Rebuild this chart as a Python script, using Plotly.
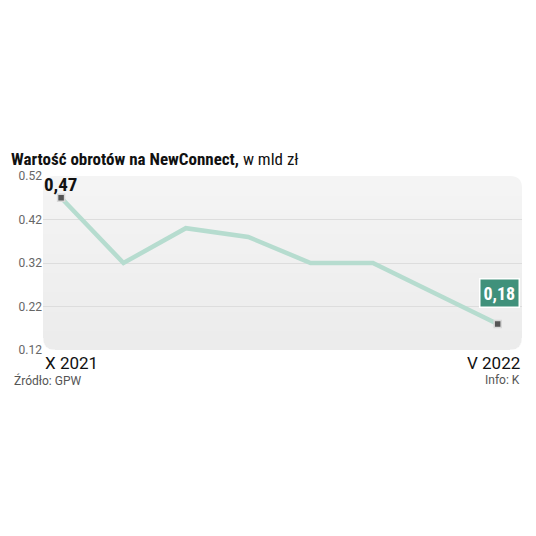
import plotly.graph_objects as go

months = ["X 2021", "XI 2021", "XII 2021", "I 2022", "II 2022", "III 2022", "IV 2022", "V 2022"]
values = [0.47, 0.32, 0.40, 0.38, 0.32, 0.32, 0.25, 0.18]
y_ticks = [0.12, 0.22, 0.32, 0.42, 0.52]
y_ticktext = ["0.12", "0.22", "0.32", "0.42", "0.52"]
grid_vals = [0.22, 0.32, 0.42]

x_idx = list(range(len(months)))
COND = "Roboto Condensed, Liberation Sans Narrow, DejaVu Sans Condensed, Roboto, sans-serif"
BASE = "Roboto, Liberation Sans, sans-serif"

fig = go.Figure()
fig.add_trace(go.Scatter(x=x_idx, y=values, mode="lines",
                         line=dict(color="#b6dccf", width=4.5), hoverinfo="skip"))
fig.add_trace(go.Scatter(x=[x_idx[0], x_idx[-1]], y=[values[0], values[-1]], mode="markers",
                         marker=dict(symbol="square", size=7, color="#555555",
                                     line=dict(color="#d8d8d8", width=1.5)), hoverinfo="skip"))
fig.add_trace(go.Scatter(x=[x_idx[0]], y=[values[0]], yaxis="y2", mode="markers",
                         marker=dict(opacity=0), hoverinfo="skip"))

W, H = 479.0, 174.0
r = 12.0
rx, ry = r / W, r / H


def rounded(top, round_top):
    if round_top:
        p = f"M {rx},{top} L {1-rx},{top} Q 1,{top} 1,{top-ry} "
    else:
        p = f"M 0,{top} L 1,{top} "
    p += (f"L 1,{ry} Q 1,0 {1-rx},0 L {rx},0 Q 0,0 0,{ry} ")
    if round_top:
        p += f"L 0,{top-ry} Q 0,{top} {rx},{top} Z"
    else:
        p += "Z"
    return p


fig.add_shape(type="path", path=rounded(1, True), xref="paper", yref="paper",
              fillcolor="#f4f4f4", line=dict(width=0), layer="below")
N = 9
for k in range(1, N):
    fig.add_shape(type="path", path=rounded(k / N, False), xref="paper", yref="paper",
                  fillcolor="rgba(0,0,0,0.0045)", line=dict(width=0), layer="below")

annotations = [
    dict(text="<b>0,47</b>", x=x_idx[0], y=values[0], xref="x", yref="y",
         showarrow=False, yanchor="bottom", yshift=0, xshift=-1,
         font=dict(family=COND, size=19, color="#111111")),
    dict(text="<b>0,18</b>", x=x_idx[-1], y=values[-1], xref="x", yref="y",
         showarrow=False, yanchor="bottom", yshift=16, xshift=2,
         bgcolor="#40917b", bordercolor="#ffffff", borderwidth=1.5, borderpad=3,
         font=dict(family=COND, size=18, color="#ffffff")),
    dict(text=months[0], x=0, y=0, xref="paper", yref="paper", xanchor="left",
         yanchor="top", showarrow=False, yshift=-1,
         font=dict(family=BASE, size=17, color="#111111")),
    dict(text=months[-1], x=1, y=0, xref="paper", yref="paper", xanchor="right",
         yanchor="top", showarrow=False, yshift=-1,
         font=dict(family=BASE, size=17, color="#111111")),
    dict(text="Źródło: GPW", x=0, y=0, xref="paper", yref="paper", xanchor="left",
         yanchor="middle", showarrow=False, yshift=-30, xshift=-31,
         font=dict(family=BASE, size=12, color="#555555")),
    dict(text="Info: K", x=1, y=0, xref="paper", yref="paper", xanchor="right",
         yanchor="middle", showarrow=False, yshift=-30,
         font=dict(family=BASE, size=12, color="#555555")),
]

fig.update_layout(
    width=520, height=520,
    margin=dict(l=35, r=6, t=168, b=178),
    paper_bgcolor="#ffffff", plot_bgcolor="rgba(0,0,0,0)",
    showlegend=False,
    title=dict(text="<b>Wartość obrotów na NewConnect,</b> w mld zł",
               xref="container", yref="container", x=3 / 520, xanchor="left",
               y=1 - 151 / 520, yanchor="middle",
               font=dict(family=COND, size=17, color="#111111")),
    xaxis=dict(range=[-0.29, 7.39], visible=False, fixedrange=True),
    yaxis=dict(range=[0.12, 0.52], tickvals=y_ticks, ticktext=y_ticktext,
               showgrid=False, zeroline=False, showline=False, ticks="",
               tickfont=dict(family=BASE, size=12, color="#666666")),
    yaxis2=dict(range=[0.12, 0.52], overlaying="y", tickvals=grid_vals,
                showgrid=True, gridcolor="#dddddd", gridwidth=1,
                showticklabels=False, zeroline=False, ticks=""),
    annotations=annotations,
)

fig.write_html("out.html")
